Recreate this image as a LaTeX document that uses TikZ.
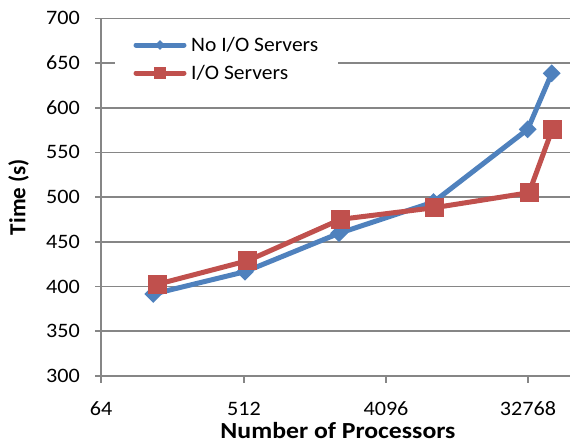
\documentclass[tikz,border=0pt]{standalone}
\usepackage{fontspec}
\setmainfont{Carlito}
\usetikzlibrary{shapes.geometric}
\definecolor{sblue}{HTML}{4F81BD}
\definecolor{sred}{HTML}{C0504D}
\definecolor{grid}{HTML}{868686}
\tikzset{
  gridline/.style={draw=grid,line width=1.6pt},
  ticklab/.style={font=\fontsize{20.5}{24}\selectfont,inner sep=0pt,xscale=1.08},
  axtitle/.style={font=\fontsize{23}{28}\selectfont\bfseries,inner sep=0pt},
  bline/.style={draw=sblue,line width=5pt,line join=round},
  rline/.style={draw=sred,line width=5pt,line join=round},
  bd/.style={diamond,fill=sblue,draw=none,minimum size=18pt,inner sep=0pt},
  rs/.style={rectangle,fill=sred,draw=none,minimum size=19pt,inner sep=0pt},
  bdl/.style={diamond,fill=sblue,draw=none,minimum size=10pt,inner sep=0pt},
  rsl/.style={rectangle,fill=sred,draw=none,minimum size=12pt,inner sep=0pt},
  legtext/.style={font=\fontsize{20.5}{24}\selectfont,inner sep=0pt,anchor=west,xscale=1.05}
}
\begin{document}
\begin{tikzpicture}[x=1pt,y=-1pt]
\useasboundingbox (0,0) rectangle (573,445);
% gridlines
\foreach \v in {0,...,8}{
  \pgfmathsetmacro{\py}{18.3+44.7*\v}
  \draw[gridline] (101,\py) -- (570,\py);
  \draw[gridline] (95,\py) -- (101,\py);
}
% y axis
\draw[gridline] (101,18.3) -- (101,376);
% y tick labels
\foreach \v [count=\i from 0] in {700,650,600,550,500,450,400,350,300}{
  \pgfmathsetmacro{\py}{18.3+44.7*\i}
  \node[ticklab,anchor=east] (yl\v) at (80,\py) {\v};
}
% x ticks and labels
\foreach \x/\l in {101/64,244/512,386/4096,528/32768}{
  \draw[gridline] (\x,376) -- (\x,383);
  \node[ticklab,anchor=base] (xl\l) at (\x,415.5) {\l};
}
% axis titles
\node[axtitle,rotate=90] (ytitle) at (18.5,197) {Time (s)};
\node[axtitle,anchor=base,xscale=1.12] (xtitle) at (338,438.5) {Number of Processors};
% legend
\node[fill=white,draw=none,minimum width=223pt,minimum height=66pt,inner sep=0pt,anchor=north west] (legbox) at (115,27) {};
\coordinate (lb1) at (136,45);
\coordinate (lb2) at (184,45);
\coordinate (lr1) at (136,73);
\coordinate (lr2) at (184,73);
\draw[bline,line cap=round] (lb1) -- (lb2);
\node[bdl] (lbm) at (160,45) {};
\node[legtext] (lbt) at (191,45) {No I/O Servers};
\draw[rline,line cap=round] (lr1) -- (lr2);
\node[rsl] (lrm) at (160,73) {};
\node[legtext] (lrt) at (191,73) {I/O Servers};
% blue series
\coordinate (b1) at (153.3,294);
\coordinate (b2) at (245,271.7);
\coordinate (b3) at (339,233.3);
\coordinate (b4) at (433.5,202);
\coordinate (b5) at (527.7,129.3);
\coordinate (b6) at (551.7,73.3);
\draw[bline] (b1) -- (b2) -- (b3) -- (b4) -- (b5) -- (b6);
\foreach \i in {1,...,6}{\node[bd] (bm\i) at (b\i) {};}
% red series
\coordinate (r1) at (157.3,284.3);
\coordinate (r2) at (247.7,260.7);
\coordinate (r3) at (340.7,219.3);
\coordinate (r4) at (434.3,207.7);
\coordinate (r5) at (529,192.7);
\coordinate (r6) at (552.3,129.3);
\draw[rline] (r1) -- (r2) -- (r3) -- (r4) -- (r5) -- (r6);
\foreach \i in {1,...,6}{\node[rs] (rm\i) at (r\i) {};}
\end{tikzpicture}
\end{document}
